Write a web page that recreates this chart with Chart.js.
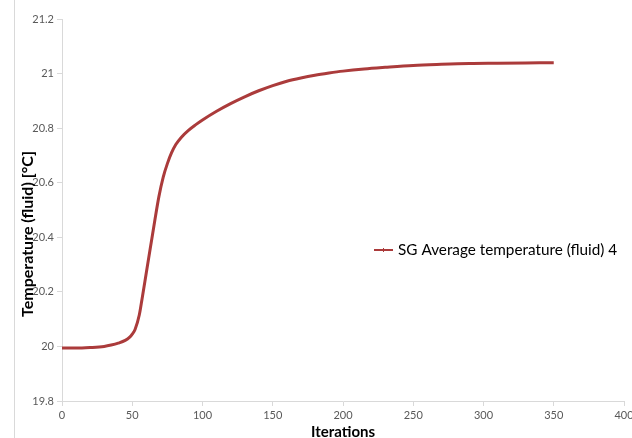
<!DOCTYPE html>
<html>
<head>
<meta charset="utf-8">
<script src="https://cdn.jsdelivr.net/npm/chart.js@4"></script>
<style>
    html, body { margin: 0; padding: 0; background: #fff; }
    #wrap { position: relative; width: 632px; height: 438px; }
    #edge { position: absolute; left: 14px; top: 0; width: 0; height: 438px; border-left: 1px solid #d9d9d9; }
</style>
</head>
<body>
<div id="wrap">
    <div id="edge"></div>
    <canvas id="chart" width="632" height="438"></canvas>
</div>
<script>
const iterations = [0, 10, 20, 30, 35, 40, 45, 48, 50, 52, 55, 57, 60, 63, 66, 69, 72, 75, 78, 81, 85, 90, 95, 100, 110, 120, 130, 140, 150, 160, 170, 180, 190, 200, 215, 230, 250, 270, 290, 310, 330, 350];
const temperatures = [19.994, 19.994, 19.996, 20.0, 20.005, 20.012, 20.022, 20.033, 20.045, 20.062, 20.115, 20.175, 20.27, 20.365, 20.46, 20.55, 20.62, 20.67, 20.71, 20.74, 20.767, 20.792, 20.812, 20.83, 20.862, 20.89, 20.915, 20.937, 20.956, 20.972, 20.984, 20.994, 21.002, 21.009, 21.017, 21.023, 21.03, 21.034, 21.037, 21.038, 21.039, 21.04];
const xTicks = [0, 50, 100, 150, 200, 250, 300, 350, 400];
const yTicks = [19.8, 20, 20.2, 20.4, 20.6, 20.8, 21, 21.2];
const seriesName = 'SG Average temperature (fluid) 4';
const xTitle = 'Iterations';
const yTitle = 'Temperature (fluid) [°C]';

const lineColor = '#ab3b3b';
const axisColor = '#d9d9d9';
const tickColor = '#595959';
const fontFamily = 'Lato, "Open Sans", sans-serif';

const sideLabels = {
    id: 'sideLabels',
    afterDraw(chart) {
        const { ctx } = chart;
        ctx.save();
        // y axis title
        ctx.translate(28, 234);
        ctx.rotate(-Math.PI / 2);
        ctx.font = 'bold 16px ' + fontFamily;
        ctx.fillStyle = '#000';
        ctx.textAlign = 'center';
        ctx.textBaseline = 'middle';
        ctx.fillText(yTitle, 0, 0);
        ctx.restore();

        // legend inside plot, right side
        const ly = 250;
        const lx = 374;
        ctx.save();
        ctx.strokeStyle = lineColor;
        ctx.lineWidth = 2;
        ctx.beginPath();
        ctx.moveTo(lx, ly);
        ctx.lineTo(lx + 19, ly);
        ctx.stroke();
        ctx.lineWidth = 1;
        ctx.beginPath();
        ctx.moveTo(lx + 9.5, ly - 2);
        ctx.lineTo(lx + 9.5, ly + 2);
        ctx.stroke();
        ctx.font = '15.3px ' + fontFamily;
        ctx.fillStyle = '#000';
        ctx.textAlign = 'left';
        ctx.textBaseline = 'middle';
        ctx.fillText(seriesName, lx + 24, ly);
        ctx.restore();
    }
};

new Chart(document.getElementById('chart'), {
    type: 'line',
    data: {
        datasets: [{
            label: seriesName,
            data: iterations.map((it, i) => ({ x: it, y: temperatures[i] })),
            borderColor: lineColor,
            backgroundColor: lineColor,
            borderWidth: 3,
            pointRadius: 0,
            cubicInterpolationMode: 'monotone',
            fill: false,
        }],
    },
    options: {
        responsive: false,
        animation: false,
        layout: { padding: { top: 19, right: 8, left: 0, bottom: 0 } },
        plugins: {
            legend: { display: false },
            tooltip: { enabled: false },
        },
        scales: {
            x: {
                type: 'linear',
                min: 0,
                max: 400,
                afterBuildTicks: (s) => { s.ticks = xTicks.map((v) => ({ value: v })); },
                afterFit: (s) => { s.height = 37; s.paddingRight = 0; s.paddingLeft = 0; },
                grid: { drawOnChartArea: false, color: axisColor, tickLength: 5 },
                border: { color: axisColor, width: 1 },
                ticks: { color: tickColor, font: { family: fontFamily, size: 11 }, padding: 3, maxRotation: 0, callback: (v) => String(v) },
                title: { display: true, text: xTitle, color: '#000', font: { family: fontFamily, size: 15, weight: 'bold' }, padding: { top: 4, bottom: -3 } },
            },
            y: {
                min: 19.8,
                max: 21.2,
                afterBuildTicks: (s) => { s.ticks = yTicks.map((v) => ({ value: v })); },
                afterFit: (s) => { s.width = 62; },
                grid: { drawOnChartArea: false, color: axisColor, tickLength: 5 },
                border: { color: axisColor, width: 1 },
                ticks: { color: tickColor, font: { family: fontFamily, size: 11 }, padding: 3, callback: (v) => String(v) },
            },
        },
    },
    plugins: [sideLabels],
});
</script>
</body>
</html>
